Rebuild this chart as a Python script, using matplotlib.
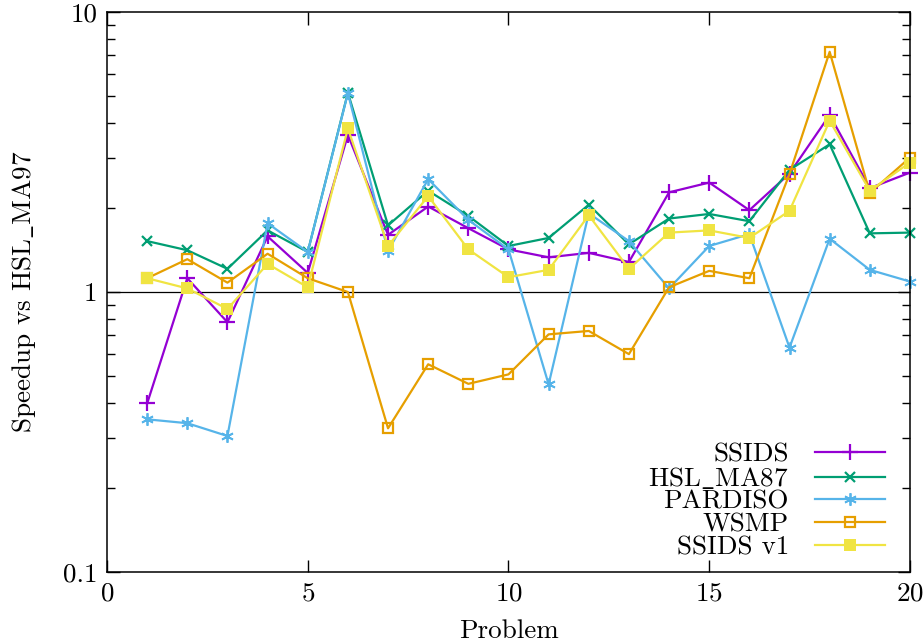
import matplotlib
matplotlib.use("Agg")
import matplotlib.pyplot as plt
from matplotlib.ticker import FixedLocator, FixedFormatter, LogLocator, NullFormatter

plt.rcParams.update({
    "font.family": ["cmr10", "DejaVu Serif"],
    "mathtext.fontset": "cm",
    "axes.formatter.use_mathtext": True,
    "font.size": 19.5,
    "axes.linewidth": 1.1,
})

problems = list(range(1, 21))

ssids = [0.40, 1.12, 0.78, 1.58, 1.17, 3.64, 1.60, 2.02, 1.69, 1.42,
         1.33, 1.38, 1.28, 2.27, 2.46, 1.96, 2.65, 4.29, 2.35, 2.67]
hsl_ma87 = [1.52, 1.41, 1.21, 1.66, 1.39, 5.15, 1.73, 2.30, 1.87, 1.46,
            1.56, 2.05, 1.48, 1.83, 1.90, 1.79, 2.73, 3.37, 1.62, 1.63]
pardiso = [0.351, 0.340, 0.306, 1.76, 1.39, 5.13, 1.40, 2.53, 1.81, 1.42,
           0.468, 1.91, 1.52, 1.03, 1.46, 1.61, 0.633, 1.55, 1.20, 1.09]
wsmp = [1.12, 1.31, 1.08, 1.37, 1.12, 1.00, 0.326, 0.552, 0.470, 0.508,
        0.706, 0.726, 0.600, 1.04, 1.19, 1.12, 2.64, 7.21, 2.26, 3.02]
ssids_v1 = [1.12, 1.03, 0.87, 1.26, 1.04, 3.84, 1.46, 2.20, 1.42, 1.13,
            1.20, 1.88, 1.21, 1.63, 1.66, 1.56, 1.95, 4.09, 2.30, 2.90]

series = [
    ("SSIDS", ssids, "#9400d3", dict(marker="+", ms=11, mew=1.6)),
    (r"HSL$\_$MA87", hsl_ma87, "#009e73", dict(marker="x", ms=6.5, mew=1.6)),
    ("PARDISO", pardiso, "#56b4e9", dict(marker=(6, 2, 0), ms=9, mew=1.3)),
    ("WSMP", wsmp, "#e69f00", dict(marker="s", ms=7.5, mew=1.6, mfc="none")),
    ("SSIDS v1", ssids_v1, "#f0e442", dict(marker="s", ms=8.5, mew=0)),
]

fig = plt.figure(figsize=(9.24, 6.43), dpi=100)
ax = fig.add_axes([0.1158, 0.1104, 0.869, 0.8709])

ax.axhline(1, color="black", lw=0.9, zorder=1)

for name, vals, col, mk in series:
    ax.plot(problems, vals, color=col, lw=1.6, label=name, clip_on=False, **mk)

ax.set_yscale("log")
ax.set_xlim(0, 20)
ax.set_ylim(0.1, 10)
ax.xaxis.set_major_locator(FixedLocator([0, 5, 10, 15, 20]))
ax.yaxis.set_major_locator(FixedLocator([0.1, 1, 10]))
ax.yaxis.set_major_formatter(FixedFormatter(["0.1", "1", "10"]))
ax.yaxis.set_minor_locator(LogLocator(base=10, subs=range(2, 10)))
ax.yaxis.set_minor_formatter(NullFormatter())
ax.tick_params(which="both", direction="in", top=True, right=True)
ax.tick_params(which="major", length=9, width=1, pad=7)
ax.tick_params(which="minor", length=5.5, width=1)

ax.set_xlabel("Problem", labelpad=10)
ax.set_ylabel(r"Speedup vs HSL$\_$MA97", labelpad=18)

ax.legend(loc="lower right", bbox_to_anchor=(1.006, -0.03),
          markerfirst=False, frameon=False,
          handlelength=2.6, handletextpad=0.95, labelspacing=-0.05,
          borderaxespad=0.9, borderpad=0.2)

fig.savefig("out.png", dpi=100)
